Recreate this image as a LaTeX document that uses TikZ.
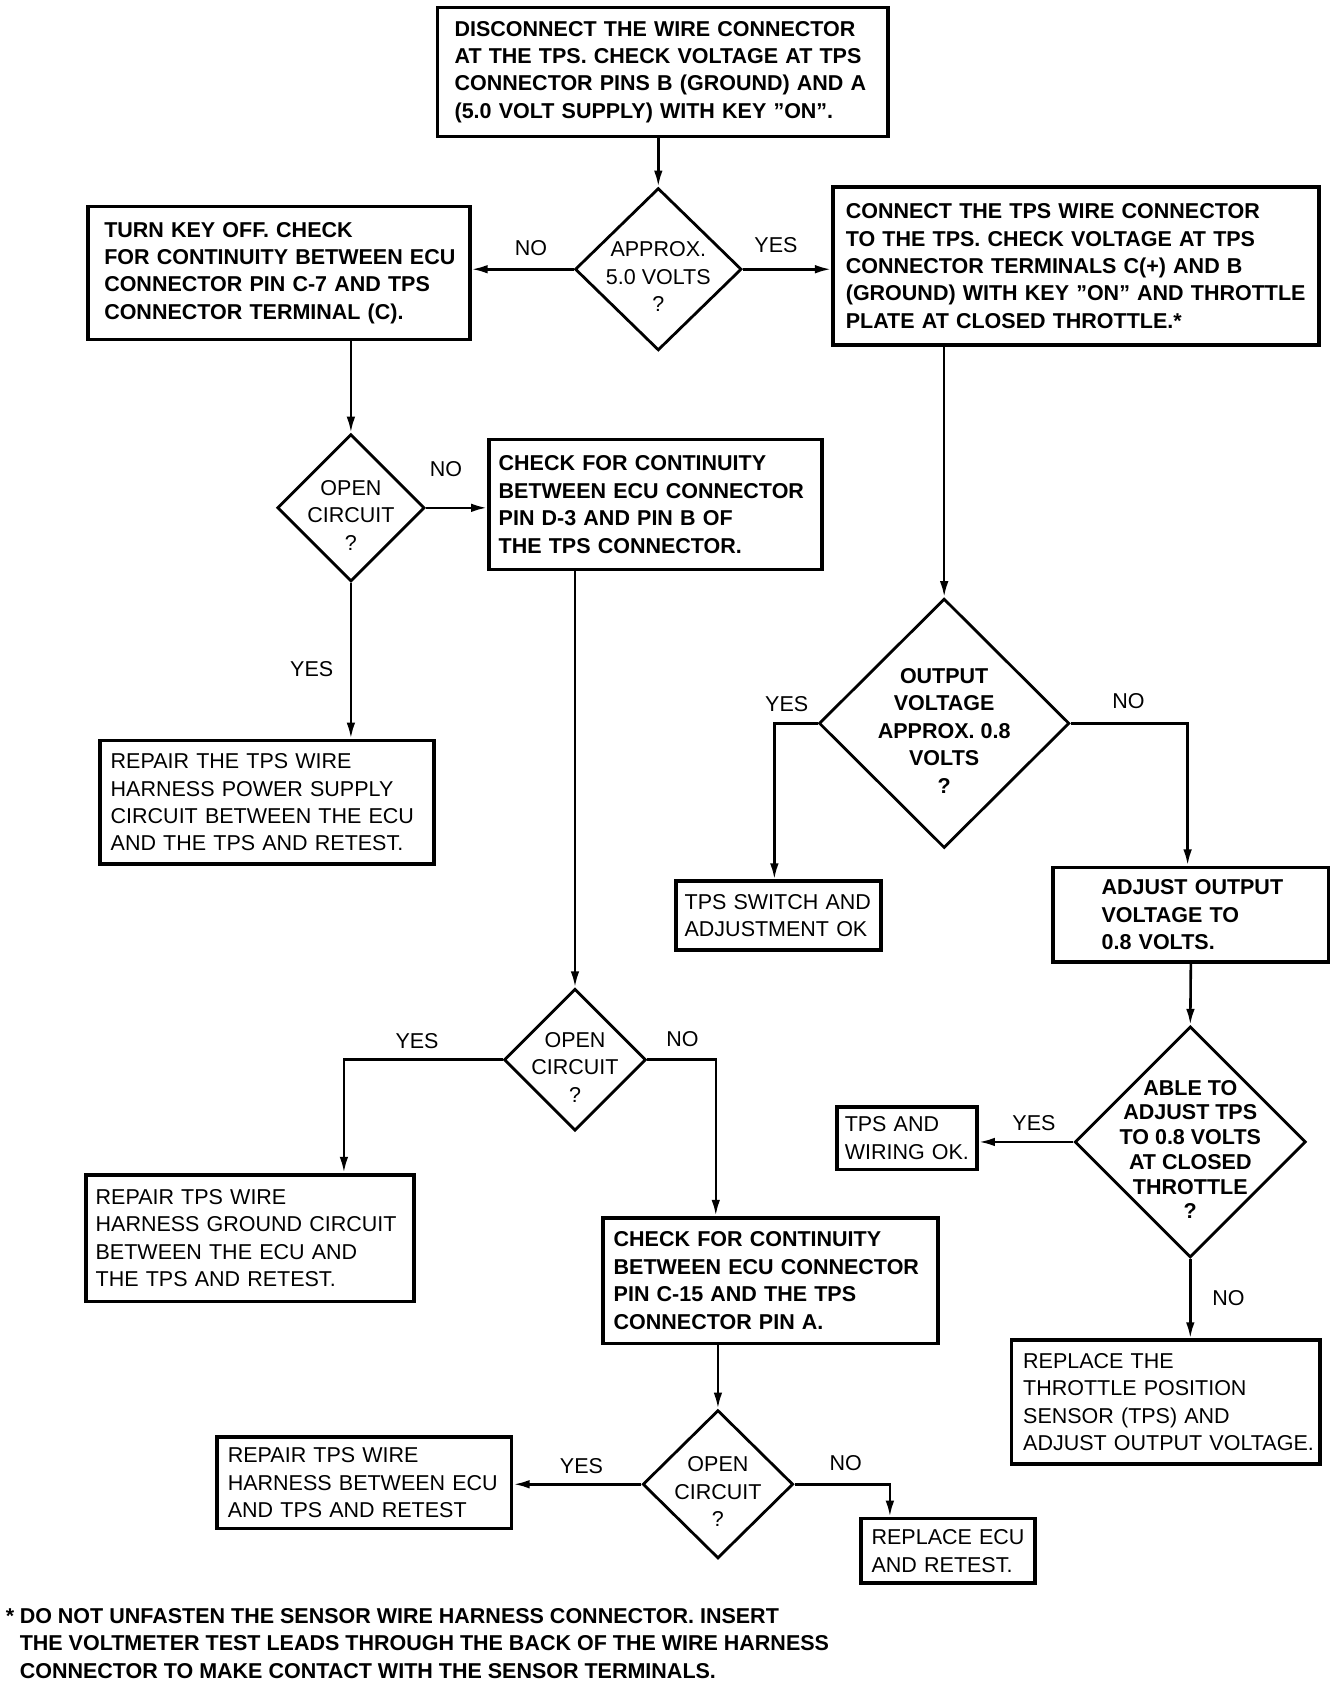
\documentclass[tikz,border=0pt]{standalone}
\usepackage{fontspec}
\setmainfont{Liberation Sans}
\usetikzlibrary{arrows.meta,shapes.geometric}
\newcommand{\chartfont}{\fontsize{10}{12.75}\selectfont}
\newcommand{\dq}{\symbol{34}}
\tikzstyle{block} = [rectangle, draw, line width=1.7pt, inner sep=0pt, align=left, font=\chartfont, indent=5pt]
\tikzstyle{decision} = [diamond, draw, line width=1.3pt, inner sep=0pt]
\tikzstyle{query} = [align=center, inner sep=0pt, yshift=-3.5pt, font=\chartfont]
\tikzstyle{answer} = [inner sep=0pt, font=\chartfont]
\tikzset{indent/.style = {execute at begin node={\leftskip=#1}},
  bold/.style = {font=\chartfont\bfseries},
  edge/.style = {
    line width=1.2pt,
    -{Latex[length=7.5pt, width=4pt]},
  }
}

\begin{document}
\begin{tikzpicture}[x=0.5pt, y=-0.5pt]
  \useasboundingbox (0,0) rectangle (1250,1565);
  % boxes
  \node[block, bold, text width=209.5pt, minimum height=60pt, indent=8pt] (n1) at (616.5,67)
    {DISCONNECT THE WIRE CONNECTOR\\AT THE TPS. CHECK VOLTAGE AT TPS\\CONNECTOR PINS B (GROUND) AND A\\(5.0 VOLT SUPPLY) WITH KEY \dq ON\dq.};
  \node[block, bold, text width=177.5pt, minimum height=62pt, indent=7.5pt] (n2) at (259.5,254)
    {TURN KEY OFF. CHECK\\FOR CONTINUITY BETWEEN ECU\\CONNECTOR PIN C-7 AND TPS\\CONNECTOR TERMINAL (C).};
  \node[block, bold, text width=226pt, minimum height=73.5pt, indent=6pt] (n3) at (1001,247.5)
    {CONNECT THE TPS WIRE CONNECTOR\\TO THE TPS. CHECK VOLTAGE AT TPS\\CONNECTOR TERMINALS C(+) AND B\\(GROUND) WITH KEY \dq ON\dq{} AND THROTTLE\\PLATE AT CLOSED THROTTLE.*};
  \node[block, bold, text width=155pt, minimum height=60.5pt, indent=4.5pt] (n4) at (610,469.5)
    {CHECK FOR CONTINUITY\\BETWEEN ECU CONNECTOR\\PIN D-3 AND PIN B OF\\THE TPS CONNECTOR.};
  \node[block, text width=155.5pt, minimum height=57.5pt] (n5) at (248.5,746.5)
    {REPAIR THE TPS WIRE\\HARNESS POWER SUPPLY\\CIRCUIT BETWEEN THE ECU\\AND THE TPS AND RETEST.};
  \node[block, text width=95.5pt, minimum height=32pt, indent=4pt] (n6) at (724.5,852)
    {TPS SWITCH AND\\ADJUSTMENT OK};
  \node[block, bold, text width=128pt, minimum height=44pt, indent=22.5pt] (n7) at (1108,851)
    {ADJUST OUTPUT\\VOLTAGE TO\\0.8 VOLTS.};
  \node[block, text width=65pt, minimum height=29pt, indent=3.5pt] (n8) at (844,1059)
    {TPS AND\\WIRING OK.};
  \node[block, text width=143.5pt, minimum height=57.5pt, indent=5.5pt] (n9) at (1084.5,1304.5)
    {REPLACE THE\\THROTTLE POSITION\\SENSOR (TPS) AND\\ADJUST OUTPUT VOLTAGE.};
  \node[block, text width=152.5pt, minimum height=59pt, indent=4.5pt] (n10) at (232.5,1152)
    {REPAIR TPS WIRE\\HARNESS GROUND CIRCUIT\\BETWEEN THE ECU AND\\THE TPS AND RETEST.};
  \node[block, bold, text width=156pt, minimum height=58.5pt] (n11) at (717,1191.5)
    {CHECK FOR CONTINUITY\\BETWEEN ECU CONNECTOR\\PIN C-15 AND THE TPS\\CONNECTOR PIN A.};
  \node[block, text width=137pt, minimum height=42.5pt] (n12) at (339,1379.5)
    {REPAIR TPS WIRE\\HARNESS BETWEEN ECU\\AND TPS AND RETEST};
  \node[block, text width=81pt, minimum height=30pt] (n13) at (882,1443)
    {REPLACE ECU\\AND RETEST.};

  % decisions
  \node[decision, minimum width=77.5pt, minimum height=75.5pt,
    label={[query]center:APPROX.\\5.0 VOLTS\\?}] (d1) at (612.5,250.5) {};
  \node[decision, minimum width=68.5pt, minimum height=68.5pt,
    label={[query]center:OPEN\\CIRCUIT\\?}] (d2) at (326.5,472.5) {};
  \node[decision, minimum width=116.5pt, minimum height=116pt,
    label={[query, bold]center:OUTPUT\\VOLTAGE\\APPROX. 0.8\\VOLTS\\?}] (d3) at (878.5,673) {};
  \node[decision, minimum width=107.5pt, minimum height=107.5pt,
    label={[query, font=\fontsize{10}{11.5}\selectfont\bfseries]center:ABLE TO\\ADJUST TPS\\TO 0.8 VOLTS\\AT CLOSED\\THROTTLE\\?}] (d4) at (1107.5,1062.5) {};
  \node[decision, minimum width=66pt, minimum height=66pt,
    label={[query]center:OPEN\\CIRCUIT\\?}] (d5) at (535,986) {};
  \node[decision, minimum width=70pt, minimum height=69pt,
    label={[query]center:OPEN\\CIRCUIT\\?}] (d6) at (668,1381) {};

  % answers
  \node[answer] (a1) at (494,231) {NO};
  \node[answer] (a2) at (722,228) {YES};
  \node[answer] (a3) at (415,436) {NO};
  \node[answer] (a4) at (290,623) {YES};
  \node[answer] (a5) at (732,655) {YES};
  \node[answer] (a6) at (1050,652) {NO};
  \node[answer] (a7) at (962,1045) {YES};
  \node[answer] (a8) at (1143,1208) {NO};
  \node[answer] (a9) at (388,969) {YES};
  \node[answer] (a10) at (635,967) {NO};
  \node[answer] (a11) at (541,1364) {YES};
  \node[answer] (a12) at (787,1361) {NO};

  % footnote
  \node[answer, bold, align=left, anchor=north west] (fn) at (5,1496)
    {\makebox[6.5pt][l]{*}DO NOT UNFASTEN THE SENSOR WIRE HARNESS CONNECTOR. INSERT\\
     \hspace*{6.5pt}THE VOLTMETER TEST LEADS THROUGH THE BACK OF THE WIRE HARNESS\\
     \hspace*{6.5pt}CONNECTOR TO MAKE CONTACT WITH THE SENSOR TERMINALS.};

  % edges
  \draw[edge] (d1.north |- n1.south) -- (d1.north);
  \draw[edge] (d1.west) -- (d1.west -| n2.east);
  \draw[edge] (d1.east) -- (d1.east -| n3.west);
  \draw[edge] (d2.north |- n2.south) -- (d2.north);
  \draw[edge] (d2.east) -- (d2.east -| n4.west);
  \draw[edge] (d2.south) -- (d2.south |- n5.north);
  \draw[edge] (d3.north |- n3.south) -- (d3.north);
  \draw[edge] (d3.west) -| ([xshift=-2pt]n6.north);
  \draw[edge] (d3.east) -| ([xshift=-1.5pt]n7.north);
  \draw[edge] (n7.south) -- (d4.north);
  \draw[edge] (d4.west) -- (d4.west -| n8.east);
  \draw[edge] (d4.south) -- (d4.south |- n9.north);
  \draw[edge] (d5.north |- n4.south) -- (d5.north);
  \draw[edge] (d5.west) -| ([xshift=43.75pt]n10.north);
  \draw[edge] (d5.east) -| ([xshift=-25.5pt]n11.north);
  \draw[edge] (d6.north |- n11.south) -- (d6.north);
  \draw[edge] (d6.west) -- (d6.west -| n12.east);
  \draw[edge] (d6.east) -| ([xshift=-27pt]n13.north);

\end{tikzpicture}
\end{document}
